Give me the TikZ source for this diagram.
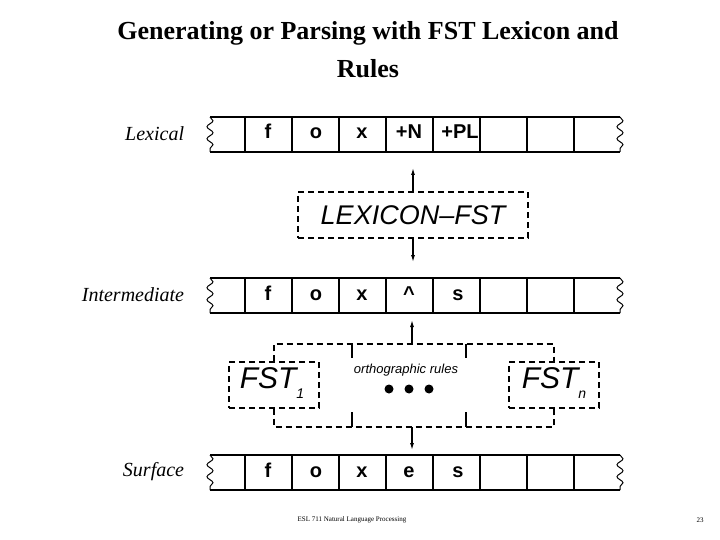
\documentclass[tikz,border=0pt]{standalone}
\usepackage{fontspec}
\setmainfont{Liberation Serif}
\setsansfont{Liberation Sans}
\usetikzlibrary{arrows.meta,decorations.pathmorphing}
\begin{document}
\begin{tikzpicture}[x=1pt,y=-1pt,line width=1.2pt,
  cell/.style={font=\sffamily\bfseries\fontsize{20}{22}\selectfont,text height=14pt,text depth=0pt},
  lbl/.style={anchor=east,font=\itshape\fontsize{20}{22}\selectfont},
  dbox/.style={draw,dash pattern=on 6pt off 4pt,line width=1.3pt},
  arr/.style={-{Latex[length=7pt,width=4pt]},line width=1.2pt},
  wig/.style={decorate,decoration={snake,segment length=12pt,amplitude=3pt},line width=1pt}]
\useasboundingbox (0,0) rectangle (720,540);
\node[font=\bfseries\fontsize{26}{38}\selectfont,align=center] (title) at (368,50) {Generating or Parsing with FST Lexicon and\\Rules};
\newcommand{\tape}[1]{%
  \draw (210,#1) -- (620,#1) (210,#1+35) -- (620,#1+35);
  \draw[wig] (210,#1) -- (210,#1+35);
  \draw[wig] (620,#1) -- (620,#1+35);
  \foreach \x in {245,292,339,386,433,480,527,574} \draw (\x,#1) -- (\x,#1+35);}
\tape{117}
\tape{278}
\tape{455}
\node[lbl] (l1) at (188,134) {Lexical};
\node[lbl] (l2) at (188,295) {Intermediate};
\node[lbl] (l3) at (188,472) {Surface};
\foreach \t/\x/\n in {f/268/a,o/316/b,x/362/c,+N/409/d,+PL/460/e}
  \node[cell] (lx\n) at (\x,132) {\t};
\foreach \t/\x/\n in {f/268/a,o/316/b,x/362/c,\^{}/409/d,s/458/e}
  \node[cell] (in\n) at (\x,293) {\t};
\foreach \t/\x/\n in {f/268/a,o/316/b,x/362/c,e/409/d,s/458/e}
  \node[cell] (sf\n) at (\x,470) {\t};
\node[dbox,minimum width=230pt,minimum height=46pt,inner sep=0,
  font=\sffamily\itshape\fontsize{27}{30}\selectfont] (lex) at (413,215) {LEXICON--FST};
\coordinate (lt) at (413,168); \coordinate (lb) at (413,262);
\draw[arr] (lex.north) -- (lt);
\draw[arr] (lex.south) -- (lb);
\node[dbox,minimum width=90pt,minimum height=46pt,inner sep=0] (f1) at (274,385) {};
\node[font=\sffamily\itshape\fontsize{30}{32}\selectfont] (f1t) at (272,383) {FST\raisebox{-10pt}{\fontsize{14}{14}\selectfont 1}};
\node[dbox,minimum width=90pt,minimum height=46pt,inner sep=0] (fn) at (554,385) {};
\node[font=\sffamily\itshape\fontsize{30}{32}\selectfont] (fnt) at (554,383) {FST\raisebox{-10pt}{\fontsize{14}{14}\selectfont n}};
\draw[dbox] (f1.north) -- (274,344) -- (554,344) -- (fn.north);
\draw[dbox] (f1.south) -- (274,427) -- (554,427) -- (fn.south);
\draw (352,344) -- (352,358) (466,344) -- (466,358) (352,427) -- (352,412) (466,427) -- (466,412);
\node[font=\sffamily\itshape\fontsize{13}{14}\selectfont] (orth) at (406,370) {orthographic rules};
\foreach \x in {389,409,429} \fill (\x,389) circle (4.5pt);
\coordinate (ot) at (412,344); \coordinate (ob) at (412,427);
\coordinate (otp) at (412,320); \coordinate (obp) at (412,450);
\draw[arr] (ot) -- (otp);
\draw[arr] (ob) -- (obp);
\node[font=\fontsize{7}{8}\selectfont] (foot) at (352,520) {ESL 711 Natural Language Processing};
\node[font=\fontsize{7}{8}\selectfont] (pg) at (700,520) {23};
\end{tikzpicture}
\end{document}
